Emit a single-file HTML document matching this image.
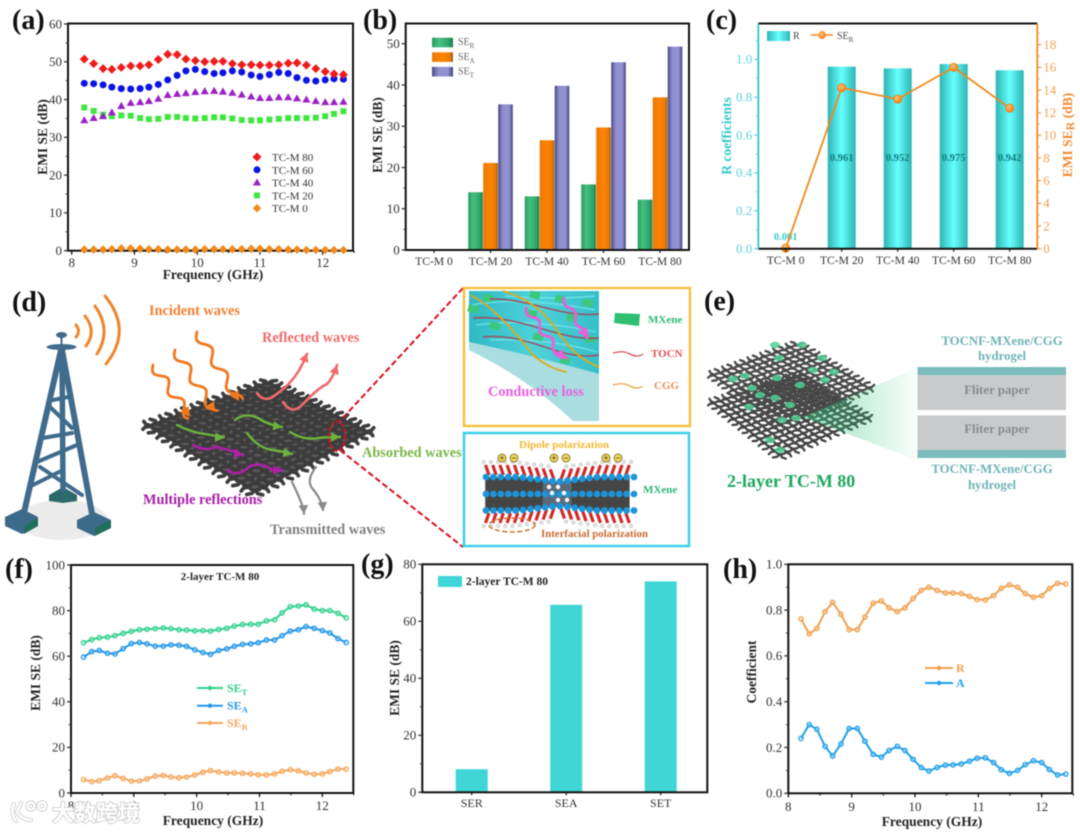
<!DOCTYPE html>
<html lang="en">
<head>
<meta charset="utf-8">
<title>EMI shielding composite figure</title>
<style>
html,body{margin:0;padding:0;background:#fff;}
#figure{display:block;width:1080px;height:832px;filter:blur(0.4px);font-family:"Liberation Serif",serif;}
.pl{font:bold 28px "Liberation Serif",serif;fill:#111;}
.at{font:bold 13.5px "Liberation Serif",serif;fill:#222;}
.il{font:bold 14.3px "Liberation Serif",serif;}
.ie{font:bold 12.8px "Liberation Serif",serif;}
.lg{font:11px "Liberation Serif",serif;fill:#333;}
</style>
</head>
<body>
<svg id="figure" xmlns="http://www.w3.org/2000/svg" width="1080" height="832" viewBox="0 0 1080 832">
<defs>
<linearGradient id="gGreen"><stop offset="0" stop-color="#2a9c62"/><stop offset=".35" stop-color="#45c07f"/><stop offset=".8" stop-color="#2ea568"/><stop offset="1" stop-color="#1d7a4a"/></linearGradient>
<linearGradient id="gOrange"><stop offset="0" stop-color="#e87a08"/><stop offset=".5" stop-color="#ff8400"/><stop offset=".85" stop-color="#e87a08"/><stop offset="1" stop-color="#9a5a18"/></linearGradient>
<linearGradient id="gPurple"><stop offset="0" stop-color="#474780"/><stop offset=".3" stop-color="#8f8fd0"/><stop offset=".75" stop-color="#9292d2"/><stop offset="1" stop-color="#44447a"/></linearGradient>
<linearGradient id="gTeal"><stop offset="0" stop-color="#2db4b4"/><stop offset=".5" stop-color="#68ffff"/><stop offset="1" stop-color="#2db4b4"/></linearGradient>
<radialGradient id="gBall" cx=".4" cy=".35" r=".7"><stop offset="0" stop-color="#ffc070"/><stop offset="1" stop-color="#f07c10"/></radialGradient>
<linearGradient id="gCone"><stop offset="0" stop-color="#2fc47a" stop-opacity=".5"/><stop offset="1" stop-color="#2fc47a" stop-opacity=".03"/></linearGradient>
<linearGradient id="gGel" x1="0" y1="0" x2="1" y2="0"><stop offset="0" stop-color="#2fb9c4"/><stop offset=".5" stop-color="#4ed2da"/><stop offset="1" stop-color="#36bfc9"/></linearGradient>
</defs>

<g>
<text class="pl" x="12" y="29">(a)</text>
<text class="pl" x="363" y="29">(b)</text>
<text class="pl" x="706" y="29">(c)</text>
<text class="pl" x="12" y="311">(d)</text>
<text class="pl" x="704" y="310">(e)</text>
<text class="pl" x="5" y="578">(f)</text>
<text class="pl" x="361" y="573">(g)</text>
<text class="pl" x="723" y="578">(h)</text>
</g>

<g id="chartA"></g>
<g id="chartB"></g>
<g id="chartC"></g>
<g id="chartF"></g>
<g id="chartG"></g>
<g id="chartH"></g>

<!-- (d) tower -->
<g>
<ellipse cx="62" cy="520" rx="46" ry="20" fill="#ececec"/>
<g fill="none" stroke="#f0852c" stroke-width="3" stroke-linecap="round">
<path d="M76 325Q81 331 76 337"/><path d="M85 316Q97 331 86 346"/><path d="M95 306Q112 330 97 354"/><path d="M105 296Q133 330 106 364"/>
</g>
<polygon points="49,495 63,487 77,495 77,501 63,503 49,501" fill="#2c6a6a"/>
<g stroke="#3f6b8c" stroke-linecap="round" fill="none">
<path d="M62 350L63 490" stroke-width="5.5"/>
<path d="M53 400L68 397M43 438L72 433M37 462L77 445M50 407L72 428M40 467L82 495M33 485L63 470" stroke-width="4"/>
<path d="M61 350L23 517" stroke-width="6"/>
<path d="M62 350L93 519" stroke-width="6"/>
</g>
<polygon points="5,517 22,509 38,517 38,526 22,534 5,526" fill="#3b6a8a"/>
<polygon points="24,534 38,526 38,518 24,526" fill="#1f6f5a"/>
<polygon points="77,520 94,512 111,520 111,528 94,536 77,528" fill="#3b6a8a"/>
<polygon points="95,536 111,528 111,520 95,528" fill="#1f6f5a"/>
<ellipse cx="61.5" cy="347" rx="15" ry="3" fill="#3f6b8c"/>
<ellipse cx="61.5" cy="335" rx="5.5" ry="3" fill="#3f6b8c"/>
<path d="M61.5 337V346" stroke="#3f6b8c" stroke-width="2"/>
</g>

<g id="meshD"></g>

<g>
<g id="wavesD" fill="none"></g>
<text class="il" x="149" y="315" fill="#f08030">Incident waves</text>
<text class="il" x="262" y="342" fill="#f06a6a">Reflected waves</text>
<text class="il" x="362" y="457" fill="#7ab648">Absorbed waves</text>
<text class="il" x="143" y="504" fill="#a41fa4">Multiple reflections</text>
<text class="il" x="270" y="534" fill="#808080">Transmitted waves</text>
</g>

<g fill="none" stroke="#d81020" stroke-width="2" stroke-dasharray="6 3">
<path d="M463 288L340 421"/>
<path d="M340 450L463 547"/>
<ellipse cx="337" cy="436" rx="8" ry="15" stroke-dasharray="4 2"/>
</g>

<!-- gold box -->
<g>
<rect x="464" y="288" width="226" height="138" fill="#fff" stroke="#f5c243" stroke-width="2.5"/>
<path d="M469 342Q530 355 599 374V421H573Q530 380 469 350Z" fill="#a9dde0"/>
<path d="M469 291H599V374Q530 355 469 342Z" fill="url(#gGel)"/>
<g stroke="#7feaf0" stroke-width="1.4" fill="none" opacity=".7">
<path d="M472 305Q520 296 595 310M476 325Q530 318 596 332M490 340Q550 338 597 352M505 296Q550 300 595 296"/>
</g>
<g id="patchesD" fill="#3cc878"></g>
<g fill="none" stroke="#a04a58" stroke-width="1.4">
<path d="M490 299C530 298 560 318 599 314"/><path d="M473 318C520 314 560 342 599 338"/><path d="M483 337C530 332 560 362 599 355"/>
</g>
<g fill="none" stroke="#e0aa18" stroke-width="1.8">
<path d="M470 295C490 305 510 325 533 355C545 365 555 370 567 372"/>
<path d="M503 291C525 297 545 310 560 335C572 352 585 362 599 367"/>
</g>
<g id="pinkWaves" fill="none"></g>
<text class="il" x="488" y="396" fill="#e860e0">Conductive loss</text>
<polygon points="615,313 640,314 639,326 614,323" fill="#2fbf70"/>
<text class="il" x="648" y="323" style="font-size:11px" fill="#2fb878">MXene</text>
<path d="M613 353Q623 350 630 354T643 354" fill="none" stroke="#e05060" stroke-width="1.3"/>
<text class="il" x="651" y="357" style="font-size:11px" fill="#e05060">TOCN</text>
<path d="M613 385Q623 382 630 386T643 386" fill="none" stroke="#eca640" stroke-width="1.3"/>
<text class="il" x="654" y="389" style="font-size:11px" fill="#e89050">CGG</text>
</g>

<!-- blue box -->
<g>
<rect x="464" y="433" width="225" height="113" fill="#fff" stroke="#3dd0e8" stroke-width="2.5"/>
<text class="il" x="519" y="448" style="font-size:11px" fill="#f0b830">Dipole polarization</text>
<g id="molecule"></g>
<ellipse cx="512" cy="525" rx="23" ry="7" fill="none" stroke="#d07030" stroke-width="1.5" stroke-dasharray="5 2.5"/>
<text class="il" x="643" y="493" style="font-size:11px" fill="#2fb878">MXene</text>
<text class="il" x="541" y="537" style="font-size:10.8px" fill="#c86a30">Interfacial polarization</text>
</g>

<!-- (e) -->
<g>
<g id="meshE"></g>
<polygon points="803,417 917,368 917,460" fill="url(#gCone)"/>
<rect x="917.5" y="367" width="148.5" height="8" fill="#7cbcbc"/>
<rect x="917.5" y="375" width="148.5" height="35" fill="#c8cacc"/>
<rect x="917.5" y="415.5" width="148.5" height="34.5" fill="#c8cacc"/>
<rect x="917.5" y="450" width="148.5" height="8" fill="#7cbcbc"/>
<g fill="#6fb3b8" text-anchor="middle">
<text class="ie" x="1002" y="345">TOCNF-MXene/CGG</text>
<text class="ie" x="1002" y="360">hydrogel</text>
<text class="ie" x="992" y="473">TOCNF-MXene/CGG</text>
<text class="ie" x="992" y="489">hydrogel</text>
</g>
<text class="ie" x="997" y="394" text-anchor="middle" fill="#8a8a8a">Fliter paper</text>
<text class="ie" x="997" y="433" text-anchor="middle" fill="#8a8a8a">Fliter paper</text>
<text x="727" y="487" style="font:bold 18px 'Liberation Serif',serif" fill="#1fa860">2-layer TC-M 80</text>
</g>

<g id="watermarkLayer">
<g fill="none" stroke="#cfcfcf" stroke-width="4.2" stroke-linecap="round">
<path d="M14 804Q10 813 16 821M21 803L17 812Q22 820 31 820"/>
<circle cx="31" cy="806" r="3.6"/><circle cx="42" cy="806" r="3.6"/>
</g>
<g fill="none" stroke="#fff" stroke-width="2.4" stroke-linecap="round">
<path d="M14 804Q10 813 16 821M21 803L17 812Q22 820 31 820"/>
<circle cx="31" cy="806" r="3.6"/><circle cx="42" cy="806" r="3.6"/>
</g>
<text x="52" y="821" style="font:bold 22px 'Liberation Sans','Noto Sans CJK SC',sans-serif;paint-order:stroke" fill="#fff" stroke="#cfcfcf" stroke-width="1.8">大数跨境</text>
</g>
</svg>

<script>
// ---------- chart data ----------
const freqA = [8.20,8.35,8.50,8.64,8.79,8.94,9.09,9.23,9.38,9.53,9.68,9.82,9.97,10.12,10.27,10.41,10.56,10.71,10.86,11.00,11.15,11.30,11.45,11.59,11.74,11.89,12.04,12.18,12.33];
const tcm80 = [50.7,49.5,48.2,48.0,48.5,48.9,48.9,49.2,50.6,52.0,51.9,50.7,50.3,50.0,50.1,50.1,49.5,49.2,49.2,49.1,49.1,49.2,49.6,49.7,49.1,48.2,47.4,46.8,46.6];
const tcm60 = [44.3,44.2,43.9,43.3,42.9,42.8,42.9,43.3,44.0,45.2,46.4,47.6,48.0,47.4,46.9,47.1,47.6,47.3,46.5,46.1,46.6,47.2,46.9,45.8,45.1,44.9,45.2,45.5,45.4];
const tcm40 = [34.5,35.1,35.6,36.6,38.3,39.1,39.3,39.6,40.2,41.2,41.5,41.7,42.0,42.2,42.3,42.1,41.8,41.3,40.8,40.4,40.4,40.6,40.6,40.3,40.0,39.6,39.3,39.3,39.4];
const tcm20 = [37.9,37.0,36.0,35.6,35.8,35.7,35.1,34.8,34.9,35.4,35.4,35.1,35.0,35.1,35.3,35.3,35.0,34.6,34.5,34.5,34.7,34.9,35.1,35.1,35.1,35.2,35.6,36.2,36.9];
const tcm0 = [0.3,0.3,0.3,0.4,0.6,0.6,0.5,0.4,0.4,0.3,0.3,0.3,0.3,0.4,0.4,0.4,0.4,0.4,0.5,0.5,0.4,0.4,0.3,0.3,0.2,0.2,0.2,0.2,0.2];
const legendA = ['TC-M 80','TC-M 60','TC-M 40','TC-M 20','TC-M 0'];
const freqTicks = [8,9,10,11,12];
const yTicksA = [0,10,20,30,40,50,60];

const categories = ['TC-M 0','TC-M 20','TC-M 40','TC-M 60','TC-M 80'];
const barSER = [0,14.0,13.0,15.9,12.2];
const barSEA = [0,21.1,26.6,29.7,37.0];
const barSET = [0,35.3,39.8,45.5,49.3];
const yTicksB = [0,10,20,30,40,50];

const rCoeff = [0.001,0.961,0.952,0.975,0.942];
const rLabels = ['0.001','0.961','0.952','0.975','0.942'];
const serC = [0.05,14.2,13.2,16.0,12.4];
const yTicksCLeft = ['0.0','0.2','0.4','0.6','0.8','1.0'];
const yTicksCRight = [0,2,4,6,8,10,12,14,16,18];

const freqF = [8.20,8.33,8.45,8.58,8.70,8.83,8.96,9.09,9.21,9.34,9.47,9.59,9.72,9.84,9.97,10.10,10.22,10.35,10.48,10.60,10.73,10.86,10.98,11.11,11.24,11.36,11.49,11.62,11.74,11.87,12.00,12.12,12.25,12.38];
const fSET = [65.9,67.3,68.1,68.4,69.0,70.0,70.9,71.6,71.8,72.1,72.4,72.1,71.6,71.5,71.1,71.2,71.0,71.7,72.2,73.2,73.9,74.0,74.0,75.5,76.0,79.0,81.7,82.0,82.5,80.7,80.0,80.0,78.8,76.8];
const fSEA = [59.6,62.0,62.5,61.3,61.0,63.3,65.5,66.0,65.4,64.4,64.4,65.0,64.8,64.3,62.8,61.6,60.8,62.5,63.2,64.3,65.2,65.4,65.9,67.1,67.1,69.0,71.0,71.6,73.0,72.2,71.2,70.2,67.7,66.0];
const fSER = [5.9,5.0,5.4,6.6,7.6,6.4,5.2,5.3,6.2,7.4,7.7,7.0,6.7,7.0,7.9,9.1,9.8,9.2,8.8,8.8,8.6,8.4,8.0,7.9,8.4,9.5,10.2,9.7,8.8,8.2,8.4,9.4,10.5,10.5];
const yTicksF = [0,20,40,60,80,100];

const catG = ['SER','SEA','SET'];
const valG = [8.1,65.8,74.0];
const yTicksG = [0,20,40,60,80];

const hR = [0.761,0.696,0.720,0.793,0.834,0.782,0.715,0.715,0.770,0.830,0.840,0.810,0.793,0.810,0.850,0.886,0.900,0.886,0.875,0.875,0.872,0.860,0.846,0.844,0.863,0.895,0.910,0.900,0.872,0.856,0.863,0.894,0.917,0.914];
const hA = [0.240,0.300,0.280,0.205,0.163,0.215,0.283,0.283,0.227,0.170,0.158,0.187,0.205,0.187,0.148,0.112,0.097,0.113,0.123,0.124,0.128,0.140,0.153,0.155,0.134,0.103,0.087,0.100,0.125,0.142,0.134,0.104,0.080,0.084];
const yTicksH = ['0.0','0.2','0.4','0.6','0.8','1.0'];

// ---------- helpers ----------
const NS = 'http://www.w3.org/2000/svg';
function mk(tag, attrs, parent, text) {
  const e = document.createElementNS(NS, tag);
  for (const k in attrs) e.setAttribute(k, attrs[k]);
  if (text !== undefined) e.textContent = text;
  parent.appendChild(e);
  return e;
}
function scale(d0, d1, r0, r1) { return v => r0 + (v - d0) * (r1 - r0) / (d1 - d0); }

function frame(g, L, T, R, B, sw) {
  const f = mk('rect', {x:L, y:T, width:R-L, height:B-T, fill:'none', stroke:'#111', 'stroke-width':sw||2}, g);
  
  
}
function yAxis(g, y, x, ticks, minorStep, color, side, fs) {
  const dir = side === 'right' ? 1 : -1;
  const vals = ticks.map(Number);
  vals.forEach((v, i) => {
    const t = mk('line', {x1:x, x2:x+dir*4, y1:y(v), y2:y(v), stroke:color, 'stroke-width':1.3}, g);
    
    
    const l = mk('text', {x:x+dir*6, y:y(v)+4.3, fill:color, 'text-anchor': side==='right'?'start':'end', style:'font:'+(fs||13)+'px "Liberation Serif",serif'}, g, ticks[i]);
    
    
    if (i < vals.length - 1 || minorStep.extra) {
      const m = mk('line', {x1:x, x2:x+dir*2.4, y1:y(v+minorStep.step), y2:y(v+minorStep.step), stroke:color, 'stroke-width':1}, g);
      
      
    }
  });
}
function xAxisNum(g, xs, yb, ticks, labelY) {
  ticks.forEach((v) => {
    const t = mk('line', {x1:xs(v), x2:xs(v), y1:yb, y2:yb+4, stroke:'#111', 'stroke-width':1.3}, g);
    
    
    const l = mk('text', {x:xs(v), y:labelY, fill:'#333', 'text-anchor':'middle', style:'font:13px "Liberation Serif",serif'}, g, v);
    
    
    const m = mk('line', {x1:xs(v+0.5), x2:xs(v+0.5), y1:yb, y2:yb+2.4, stroke:'#111', 'stroke-width':1}, g);
    
    
  });
}
function xAxisCat(g, centers, yb, labels, labelY, fs) {
  labels.forEach((c, i) => {
    const t = mk('line', {x1:centers(i), x2:centers(i), y1:yb, y2:yb+3, stroke:'#111', 'stroke-width':1.1}, g);
    
    
    const l = mk('text', {x:centers(i), y:labelY, fill:'#333', 'text-anchor':'middle', style:'font:'+fs+'px "Liberation Serif",serif'}, g, c);
    
    
  });
}
function xTitle(g, x, y, s) {
  const t = mk('text', {x:x, y:y, class:'at', 'text-anchor':'middle'}, g, s);
  
  
}
function yTitle(g, x, y, s, color) {
  const t = mk('text', {class:'at', 'text-anchor':'middle', transform:'translate('+x+','+y+') rotate(-90)'}, g, s);
  if (color) t.style.fill = color;
  
  
  return t;
}
function shape(g, kind, cx, cy, r, color) {
  if (kind === 'circle') return mk('circle', {cx:cx, cy:cy, r:r, fill:color}, g);
  let pts;
  if (kind === 'diamond') pts = [[cx,cy-r*1.15],[cx+r*1.15,cy],[cx,cy+r*1.15],[cx-r*1.15,cy]];
  if (kind === 'triangle') pts = [[cx,cy-r*1.1],[cx+r*1.1,cy+r*.8],[cx-r*1.1,cy+r*.8]];
  if (kind === 'square') pts = [[cx-r*.9,cy-r*.9],[cx+r*.9,cy-r*.9],[cx+r*.9,cy+r*.9],[cx-r*.9,cy+r*.9]];
  return mk('polygon', {points:pts.map(p=>p.join(',')).join(' '), fill:color}, g);
}
function seText(g, x, y, sub, color, fs, weight) {
  const t = mk('text', {x:x, y:y, fill:color, style:'font:'+(weight||'normal')+' '+fs+'px "Liberation Serif",serif'}, g);
  
  
  const a = mk('tspan', {}, t, 'SE');
  
  
  const b = mk('tspan', {dy:3, style:'font-size:'+(fs*0.7)+'px'}, t, sub);
  
  
}
function lineSeries(g, xs, ys, xVals, yVals, color, name) {
  const s = mk('g', {}, g);
  
  
  const pl = mk('polyline', {points:xVals.map((x,i)=>xs(x)+','+ys(yVals[i])).join(' '), fill:'none', stroke:color, 'stroke-width':2}, s);
  
  
  xVals.forEach((x,i)=>{
    const c = mk('circle', {cx:xs(x), cy:ys(yVals[i]), r:2.2, fill:'#ffffff', 'fill-opacity':.3, stroke:color, 'stroke-width':1.3}, s);
    
    
  });
}
function legendLine(g, x0, x1, y, color) {
  const l = mk('line', {x1:x0, x2:x1, y1:y, y2:y, stroke:color, 'stroke-width':2}, g);
  
  
  const c = mk('circle', {cx:(x0+x1)/2, cy:y, r:2.2, fill:color}, g);
  
  
}

// ---------- (a) ----------
(function(){
  const g = document.getElementById('chartA');
  const L=68, R=353, T=23.5, B=250.7;
  const xs = scale(8,12,71.7,322.7), ys = scale(0,60,B,24);
  frame(g,L,T,R,B);
  yAxis(g,ys,L,yTicksA,{step:5},'#333');
  xAxisNum(g,xs,B,freqTicks,267);
  xTitle(g,213,279,'Frequency (GHz)');
  yTitle(g,47,137,'EMI SE (dB)');
  const kinds = ['diamond','circle','triangle','square','diamond'];
  const colors = ['#ee1c1c','#0a14e8','#9a22c4','#3fe63f','#f08a1c'];
  const sizes = [3.9,3.5,3.7,3.3,3.7];
  [tcm80,tcm60,tcm40,tcm20,tcm0].slice().reverse().forEach((vals,ri)=>{
    const i = 4 - ri;
    const s = mk('g',{},g);
    
    
    vals.forEach((v,j)=>{
      const m = shape(s,kinds[i],xs(freqA[j]),ys(v),sizes[i],colors[i]);
      
      
    });
  });
  legendA.forEach((n,i)=>{
    const y = 157 + i*12.8;
    const m = shape(g,kinds[i],257,y,sizes[i],colors[i]);
    
    
    const t = mk('text',{x:272,y:y+4,class:'lg'},g,n);
    
    
  });
})();

// ---------- (b) ----------
(function(){
  const g = document.getElementById('chartB');
  const L=405.7,R=689,T=23.5,B=250;
  const ys = scale(0,50,B,43.7);
  const cx = scale(0,4,434,660);
  const series = [[barSER,'url(#gGreen)','ser'],[barSEA,'url(#gOrange)','sea'],[barSET,'url(#gPurple)','set']];
  series.forEach((s,si)=>{
    s[0].forEach((v,i)=>{
      if (v <= 0) return;
      const r = mk('rect',{x:cx(i)+(si-1)*15-7.3,y:ys(v),width:14.6,height:B-ys(v),fill:s[1]},g);
      
      
    });
  });
  frame(g,L,T,R,B);
  yAxis(g,ys,L,yTicksB,{step:5},'#333');
  xAxisCat(g,cx,B,categories,265,11.6);
  yTitle(g,382,135,'EMI SE (dB)');
  const subs=['R','A','T'];
  subs.forEach((n,i)=>{
    const y=37.7+i*14.6;
    const sw=mk('rect',{x:432,y:y,width:21,height:9.6,fill:series[i][1]},g);
    
    
    seText(g,458,y+7.5,n,'#666',10);
  });
})();

// ---------- (c) ----------
(function(){
  const g = document.getElementById('chartC');
  const L=758.3,R=1037.3,T=23.5,B=248.7;
  const yl = scale(0,1,B,59.3), yr = scale(0,18,B,44.7), cx = scale(0,4,785.7,1009.7);
  rCoeff.forEach((v,i)=>{
    const r=mk('rect',{x:cx(i)-14,y:yl(v),width:28,height:B-yl(v),fill:'url(#gTeal)'},g);
    
    
    const big = v > 0.1;
    const t=mk('text',{x:cx(i),y:big?161:240,'text-anchor':'middle',fill:big?'#0f8080':'#3cc8c8',style:'font:bold 10.5px "Liberation Serif",serif'},g,rLabels[i]);
    
    
  });
  const pl=mk('polyline',{points:serC.map((v,i)=>cx(i)+','+yr(v)).join(' '),fill:'none',stroke:'#f08a1c','stroke-width':1.8},g);
  
  
  serC.forEach((v,i)=>{
    const c=mk('circle',{cx:cx(i),cy:yr(v),r:4.2,fill:'url(#gBall)',stroke:'#e87a10','stroke-width':.6},g);
    
    
  });
  [[L,T,R,T,'#111',2],[L,B,R,B,'#111',2],[L,T,L,B,'#2cc5c5',1.8],[R,T,R,B,'#f08a1c',1.8]].forEach(a=>{
    const l=mk('line',{x1:a[0],y1:a[1],x2:a[2],y2:a[3],stroke:a[4],'stroke-width':a[5]},g);
    
    
  });
  yAxis(g,yl,L,yTicksCLeft,{step:.1,extra:true},'#5fd0d8');
  yAxis(g,yr,R,yTicksCRight,{step:1,extra:true},'#f0a050','right');
  xAxisCat(g,cx,B,categories,264,11.6);
  yTitle(g,731,136,'R coefficients','#35c8cc');
  const rt=mk('text',{class:'at','text-anchor':'middle',transform:'translate(1072,135) rotate(-90)',style:'fill:#f08a30'},g);
  
  
  const r1=mk('tspan',{},rt,'EMI SE');
  
  
  const r2=mk('tspan',{dy:2,style:'font-size:12px'},rt,'R');
  
  
  const r3=mk('tspan',{dy:-2},rt,' (dB)');
  
  
  const sw=mk('rect',{x:767,y:31,width:23,height:10,fill:'url(#gTeal)'},g);
  
  
  const tr=mk('text',{x:793,y:39,fill:'#444',style:'font:10px "Liberation Serif",serif'},g,'R');
  
  
  const ll=mk('line',{x1:811,x2:833,y1:35,y2:35,stroke:'#f08a1c','stroke-width':1.6},g);
  
  
  const lc=mk('circle',{cx:822,cy:35,r:4,fill:'url(#gBall)'},g);
  
  
  seText(g,837,39,'R','#444',10);
})();

// ---------- (f) ----------
(function(){
  const g = document.getElementById('chartF');
  const L=71,R=353.3,T=565,B=793;
  const xs=scale(8,12,71,322.3), ys=scale(0,100,B,T);
  frame(g,L,T,R,B);
  yAxis(g,ys,L,yTicksF,{step:10},'#333');
  xAxisNum(g,xs,B,freqTicks,810);
  xTitle(g,213,825,'Frequency (GHz)');
  yTitle(g,40,673,'EMI SE (dB)');
  lineSeries(g,xs,ys,freqF,fSET,'#2ed08c','series-set');
  lineSeries(g,xs,ys,freqF,fSEA,'#2196e8','series-sea');
  lineSeries(g,xs,ys,freqF,fSER,'#f5a65b','series-ser');
  const it=mk('text',{x:220,y:580,'text-anchor':'middle',fill:'#222',style:'font:bold 11px "Liberation Serif",serif'},g,'2-layer TC-M 80');
  
  
  [['T','#2ed08c',688],['A','#2196e8',705.7],['R','#f5a65b',723]].forEach(a=>{
    legendLine(g,197,223,a[2],a[1]);
    seText(g,227,a[2]+4,a[0],a[1],12,'bold');
  });
})();

// ---------- (g) ----------
(function(){
  const g = document.getElementById('chartG');
  const L=422.3,R=707.3,T=564.3,B=792.3;
  const ys=scale(0,80,B,T), cx=scale(0,2,471.7,660.7);
  valG.forEach((v,i)=>{
    const r=mk('rect',{x:cx(i)-16,y:ys(v),width:32,height:B-ys(v),fill:'#40d6d6'},g);
    
    
  });
  frame(g,L,T,R,B);
  yAxis(g,ys,L,yTicksG,{step:10},'#333');
  xAxisCat(g,cx,B,catG,807,12);
  yTitle(g,399,678,'EMI SE (dB)');
  const sw=mk('rect',{x:438,y:576,width:24,height:11,fill:'#40d6d6'},g);
  
  
  const t=mk('text',{x:466,y:585,fill:'#222',style:'font:bold 11.5px "Liberation Serif",serif'},g,'2-layer TC-M 80');
  
  
})();

// ---------- (h) ----------
(function(){
  const g = document.getElementById('chartH');
  const L=788.3,R=1072.3,T=564.3,B=793.3;
  const xs=scale(8,12,788.3,1041.7), ys=scale(0,1,B,T);
  frame(g,L,T,R,B);
  yAxis(g,ys,L,yTicksH,{step:.1},'#333');
  xAxisNum(g,xs,B,freqTicks,811);
  xTitle(g,932,826,'Frequency (GHz)');
  yTitle(g,756,672,'Coefficient');
  lineSeries(g,xs,ys,freqF,hR,'#f0a050','series-r');
  lineSeries(g,xs,ys,freqF,hA,'#1fa0e8','series-a');
  [['R','#f0a050',668],['A','#1fa0e8',683]].forEach(a=>{
    legendLine(g,925,953,a[2],a[1]);
    const t=mk('text',{x:956,y:a[2]+4,fill:a[1],style:'font:bold 12px "Liberation Serif",serif'},g,a[0]);
    
    
  });
})();

// ---------- illustrations ----------
function meshPoint(c,u,v){
  return [
    (1-u)*(1-v)*c[0][0]+u*(1-v)*c[1][0]+u*v*c[2][0]+(1-u)*v*c[3][0],
    (1-u)*(1-v)*c[0][1]+u*(1-v)*c[1][1]+u*v*c[2][1]+(1-u)*v*c[3][1]
  ];
}
function drawMesh(g,c,n,sw,color,base,ext){
  if (base) {
    const p=mk('polygon',{points:c.map(q=>q.join(',')).join(' '),fill:base},g);
    
    
  }
  for(let dir=0;dir<2;dir++){
    for(let i=0;i<=n;i++){
      const a=i/n; let d='';
      for(let s=-ext;s<=n*2+ext;s++){
        const b=s/(n*2);
        const w=(s%2===0?0.007:-0.007)*(i%2===0?1:-1);
        const q=dir===0?meshPoint(c,b,a+w):meshPoint(c,a+w,b);
        d+=(d?'L':'M')+q[0].toFixed(1)+' '+q[1].toFixed(1);
      }
      const e=mk('path',{d:d,fill:'none',stroke:color,'stroke-width':sw,'stroke-linecap':'round','stroke-linejoin':'round'},g);
      
      
    }
  }
}
function wavy(x0,y0,x1,y1,amp,n){
  const dx=x1-x0,dy=y1-y0,len=Math.hypot(dx,dy),nx=-dy/len,ny=dx/len;
  let d='';
  for(let i=0;i<=40;i++){
    const t=i/40,o=amp*Math.sin(t*n*Math.PI*2);
    d+=(d?'L':'M')+(x0+dx*t+nx*o).toFixed(1)+' '+(y0+dy*t+ny*o).toFixed(1);
  }
  return d;
}
function head(g,x,y,ang,size,color){
  const a=ang, p=[[x,y],[x-size*Math.cos(a-.5),y-size*Math.sin(a-.5)],[x-size*Math.cos(a+.5),y-size*Math.sin(a+.5)]];
  const e=mk('polygon',{points:p.map(q=>q.join(',')).join(' '),fill:color},g);
  
  
}
function arrowWave(g,x0,y0,x1,y1,amp,n,color,sw,name){
  const e=mk('path',{d:wavy(x0,y0,x1,y1,amp,n),stroke:color,'stroke-width':sw,fill:'none','stroke-linecap':'round'},g);
  
  
  head(g,x1,y1,Math.atan2(y1-y0,x1-x0),11,color);
}
function arrowPath(g,d,x,y,ang,color,sw,name){
  const e=mk('path',{d:d,stroke:color,'stroke-width':sw,fill:'none','stroke-linecap':'round'},g);
  
  
  head(g,x,y,ang,10,color);
}
(function(){
  const mesh=document.getElementById('meshD');
  const c=[[150,426],[268,383],[367,432],[255,491]];
  drawMesh(mesh,c,15,3.6,'#3c3c3c','#5a5a5a',2);
  const w=document.getElementById('wavesD');
  const O='#f0781e';
  arrowWave(w,153,365,190,417,4.5,2.4,O,2.8,'incident-wave-1');
  arrowWave(w,175,350,215,412,4.5,2.6,O,2.8,'incident-wave-2');
  arrowWave(w,197,332,239,401,4.5,2.8,O,2.8,'incident-wave-3');
  arrowPath(w,'M257 393Q264 403 274 396Q290 385 298 372Q303 364 307 354',307,353,-1.2,'#f06a6a',2.6,'reflected-wave-1');
  arrowPath(w,'M283 402Q292 416 303 404Q318 388 327 384Q333 378 337 365',337,365,-1.25,'#f06a6a',2.6,'reflected-wave-2');
  const G='#6cb43c';
  arrowPath(w,'M177 425Q190 432 205 434Q215 436 224 437',224,438,.1,G,2.4,'absorbed-wave-1');
  arrowPath(w,'M235 420Q245 412 258 418Q268 425 282 427',282,427,.15,G,2.4,'absorbed-wave-2');
  arrowPath(w,'M247 433Q258 448 272 450Q282 451 292 454',292,454,.2,G,2.4,'absorbed-wave-3');
  arrowPath(w,'M290 432Q305 441 318 438Q328 437 340 437',340,437,0,G,2.4,'absorbed-wave-4');
  const P='#b01fa8';
  arrowPath(w,'M193 445Q205 452 215 447Q228 449 243 455',243,455,.2,P,2.6,'multiple-reflection-wave-1');
  arrowPath(w,'M227 470Q238 478 250 466Q262 462 272 470Q278 472 282 470',282,470,0,P,2.6,'multiple-reflection-wave-2');
  const Gr='#8a8a8a';
  arrowPath(w,'M292 482Q300 498 303 508Q304 512 304 514',304,514,1.5,Gr,2.2,'transmitted-wave-1');
  arrowPath(w,'M316 467Q306 480 312 488Q322 500 323 510',323,511,1.5,Gr,2.2,'transmitted-wave-2');

  const patches=document.getElementById('patchesD');
  const spots=[[488,298],[473,309],[535,295],[560,299],[588,303],[532,314],[495,326],[538,337],[590,339],[565,360],[572,318]];
  spots.forEach((s)=>{
    const r=mk('rect',{x:s[0]-5,y:s[1]-3.5,width:10,height:7,transform:'rotate(12 '+s[0]+' '+s[1]+')'},patches);
    
    
  });
  const pw=document.getElementById('pinkWaves');
  arrowWave(pw,526,308,564,360,3.2,2.8,'#e860d8',2.8,'conductive-loss-wave-1');
  arrowWave(pw,564,298,587,338,2.6,2,'#e860d8',2.8,'conductive-loss-wave-2');

  // molecule
  const mol=document.getElementById('molecule');
  const cxM=558, cyM=494;
  const spread=x=>0.72+0.28*Math.min(1,Math.abs(x-cxM)/40);
  for(let x=489;x<=633;x+=7.2){
    if (Math.abs(x-cxM) < 3) continue;
    const s=spread(x);
    const lean=(x < cxM ? -1 : 1)*3.5;
    const top=cyM-17*s, bot=cyM+17*s;
    const d1=mk('rect',{x:x-3.8,y:top,width:7.6,height:bot-top,fill:Math.abs(x-cxM) < 14 ? '#5a6a78' : '#454545'},mol);
    
    
    const w1=mk('line',{x1:x,x2:x+lean,y1:top-2,y2:top-12,stroke:'#cf2a2a','stroke-width':3.2},mol);
    
    
    const w2=mk('line',{x1:x,x2:x+lean,y1:bot+2,y2:bot+12,stroke:'#cf2a2a','stroke-width':3.2},mol);
    
    
    const w3=mk('circle',{cx:x+lean*1.5,cy:top-15,r:1.9,fill:'#e0e0e0',stroke:'#bbb','stroke-width':.4},mol);
    
    
    const w4=mk('circle',{cx:x+lean*1.5,cy:bot+15,r:1.9,fill:'#e0e0e0',stroke:'#bbb','stroke-width':.4},mol);
    
    
  }
  for(let x=486;x<=635;x+=7.4){
    const s=spread(x);
    [-17,0,16.5].forEach(r=>{
      const b=mk('circle',{cx:x,cy:cyM+r*s,r:3.4,fill:'#1e95d8'},mol);
      
      
    });
  }
  [[558,487],[552,493],[564,493],[558,500],[549,487],[567,500]].forEach(p=>{
    const c0=mk('circle',{cx:p[0],cy:p[1],r:2.2,fill:'#fff'},mol);
    
    
  });
  [[502,'+'],[514,'−'],[554,'+'],[566,'−'],[606,'+'],[618,'−']].forEach(p=>{
    const c1=mk('circle',{cx:p[0],cy:458,r:4,fill:'#f0d85a',stroke:'#6a5a10','stroke-width':.7},mol);
    
    
    const t=mk('text',{x:p[0],y:461,'text-anchor':'middle',fill:'#332',style:'font:9px "Liberation Sans",sans-serif'},mol,p[1]);
    
    
  });

  // (e) mesh
  const e=document.getElementById('meshE');
  drawMesh(e,[[714,403],[797,376],[866,418],[780,455]],13,2.3,'#444',null,2);
  drawMesh(e,[[714,375],[797,345],[868,388],[780,424]],13,2.3,'#4a4a4a',null,2);
  [[733,379],[745,376],[752,388],[775,345],[802,345],[822,358],[779,358],[813,370],[834,372],[777,378],[749,407],[775,398],[790,405],[770,440],[780,450],[796,418],[760,395],[800,385],[825,380],[782,420]].forEach(p=>{
    const f=mk('ellipse',{cx:p[0],cy:p[1],rx:5,ry:3.2,fill:'#4fcf96',opacity:.85},e);
    
    
  });

  // keep the watermark on top of the axis labels
  const wm=document.getElementById('watermarkLayer');
  wm.parentNode.appendChild(wm);
})();
</script>
</body>
</html>
